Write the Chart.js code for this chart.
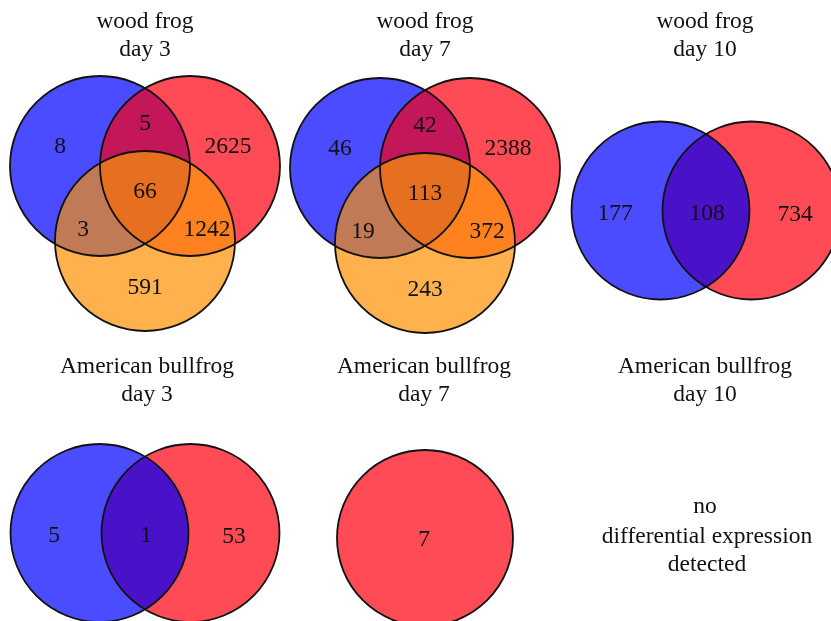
<!DOCTYPE html>
<html>
<head>
<meta charset="utf-8">
<script src="https://cdn.jsdelivr.net/npm/chart.js@4"></script>
<style>
  body { margin: 0; background: #fff; }
  canvas { display: block; }
</style>
</head>
<body>
<canvas id="venn" width="831" height="621"></canvas>
<script>
// panel titles, row by row
var panelTitles = [
    ['wood frog', 'day 3'], ['wood frog', 'day 7'], ['wood frog', 'day 10'],
    ['American bullfrog', 'day 3'], ['American bullfrog', 'day 7'], ['American bullfrog', 'day 10']
];
// 3-set counts: blue only, red only, orange only, blue+red, blue+orange, red+orange, all three
var woodDay3 = [8, 2625, 591, 5, 3, 1242, 66];
var woodDay7 = [46, 2388, 243, 42, 19, 372, 113];
// 2-set counts: blue only, red only, both
var woodDay10 = [177, 734, 108];
var bullDay3 = [5, 53, 1];
// single set: red only
var bullDay7 = [7];
var bullDay10Text = ['no', 'differential expression', 'detected'];

// layout (data units of the hidden axes, one unit = one pixel)
var titleX = [145, 425, 705, 147, 424, 705];
var titleY = [22, 22, 22, 367, 367, 367];
var anchors = [[145, 191], [425, 193], [706, 210.5], [145, 533], [425, 538], [706, 535]];
var textShift = 2; // canvas 'middle' sits a little high for serif digits

var colors = {
    blue: '#4B4BFF', red: '#FF4B55', orange: '#FFB14E',
    blueRed2: '#4A12C8',
    blueRed3: '#C4175A', blueOrange: '#C07A56', redOrange: '#FF8120', all3: '#E6701F'
};

function threeSet(a, counts) {
    return {
        circles: [
            {x: a[0] - 45, y: a[1] - 25, r: 90, c: colors.blue},
            {x: a[0] + 45, y: a[1] - 25, r: 90, c: colors.red},
            {x: a[0], y: a[1] + 50, r: 90, c: colors.orange}
        ],
        pairs: [[0, 1, colors.blueRed3], [0, 2, colors.blueOrange], [1, 2, colors.redOrange]],
        triple: colors.all3,
        labels: [
            [a[0] - 85, a[1] - 46, counts[0]], [a[0] + 83, a[1] - 46, counts[1]],
            [a[0], a[1] + 95, counts[2]], [a[0], a[1] - 69, counts[3]],
            [a[0] - 62, a[1] + 37, counts[4]], [a[0] + 62, a[1] + 37, counts[5]],
            [a[0], a[1] - 1, counts[6]]
        ]
    };
}

function twoSet(a, counts) {
    return {
        circles: [
            {x: a[0] - 45.5, y: a[1], r: 89, c: colors.blue},
            {x: a[0] + 45.5, y: a[1], r: 89, c: colors.red}
        ],
        pairs: [[0, 1, colors.blueRed2]],
        labels: [
            [a[0] - 91, a[1] + 1, counts[0]], [a[0] + 89, a[1] + 2, counts[1]],
            [a[0] + 1, a[1] + 1, counts[2]]
        ]
    };
}

var panels = [
    threeSet(anchors[0], woodDay3),
    threeSet(anchors[1], woodDay7),
    twoSet(anchors[2], woodDay10),
    twoSet(anchors[3], bullDay3),
    {
        circles: [{x: anchors[4][0], y: anchors[4][1], r: 88, c: colors.red}],
        pairs: [],
        labels: [[anchors[4][0] - 1, anchors[4][1], bullDay7[0]]]
    },
    {
        circles: [], pairs: [],
        labels: [
            [anchors[5][0] - 1, anchors[5][1] - 30, bullDay10Text[0]],
            [anchors[5][0] + 1, anchors[5][1], bullDay10Text[1]],
            [anchors[5][0] + 1, anchors[5][1] + 28, bullDay10Text[2]]
        ]
    }
];

// every circle center goes in as a point so the scales know about it
var centerPoints = [];
panels.forEach(function (p) {
    p.circles.forEach(function (c) { centerPoints.push({x: c.x, y: c.y}); });
});

var FONT = '23.5px "Liberation Serif", "Times New Roman", serif';

var vennPlugin = {
    id: 'venn',
    afterDatasetsDraw: function (chart) {
        var ctx = chart.ctx;
        var xs = chart.scales.x, ys = chart.scales.y;
        function px(c) {
            return {
                x: xs.getPixelForValue(c.x),
                y: ys.getPixelForValue(c.y),
                r: Math.abs(xs.getPixelForValue(c.x + c.r) - xs.getPixelForValue(c.x))
            };
        }
        function path(c) {
            var p = px(c);
            ctx.beginPath();
            ctx.arc(p.x, p.y, p.r, 0, Math.PI * 2);
        }
        ctx.save();
        panels.forEach(function (p) {
            p.circles.forEach(function (c) {
                path(c); ctx.fillStyle = c.c; ctx.fill();
            });
            p.pairs.forEach(function (pr) {
                ctx.save();
                path(p.circles[pr[0]]); ctx.clip();
                path(p.circles[pr[1]]); ctx.fillStyle = pr[2]; ctx.fill();
                ctx.restore();
            });
            if (p.triple) {
                ctx.save();
                path(p.circles[0]); ctx.clip();
                path(p.circles[1]); ctx.clip();
                path(p.circles[2]); ctx.fillStyle = p.triple; ctx.fill();
                ctx.restore();
            }
            ctx.lineWidth = 1.8;
            ctx.strokeStyle = '#111';
            p.circles.forEach(function (c) { path(c); ctx.stroke(); });

            ctx.fillStyle = '#111';
            ctx.font = FONT;
            ctx.textAlign = 'center';
            ctx.textBaseline = 'middle';
            p.labels.forEach(function (l) {
                ctx.fillText(String(l[2]), xs.getPixelForValue(l[0]), ys.getPixelForValue(l[1] + textShift));
            });
        });
        panelTitles.forEach(function (t, i) {
            ctx.fillText(t[0], xs.getPixelForValue(titleX[i]), ys.getPixelForValue(titleY[i]));
            ctx.fillText(t[1], xs.getPixelForValue(titleX[i]), ys.getPixelForValue(titleY[i] + 28));
        });
        ctx.restore();
    }
};

var canvas = document.getElementById('venn');
var ctx = canvas.getContext('2d');
var vennChart = new Chart(ctx, {
    type: 'scatter',
    data: {
        datasets: [{ data: centerPoints, pointRadius: 0, pointHoverRadius: 0 }]
    },
    options: {
        responsive: false,
        animation: false,
        layout: { padding: 0 },
        plugins: { legend: { display: false }, tooltip: { enabled: false } },
        scales: {
            x: { type: 'linear', min: 0, max: 831, display: false },
            y: { type: 'linear', min: 0, max: 621, reverse: true, display: false }
        }
    },
    plugins: [vennPlugin]
});
</script>
</body>
</html>
